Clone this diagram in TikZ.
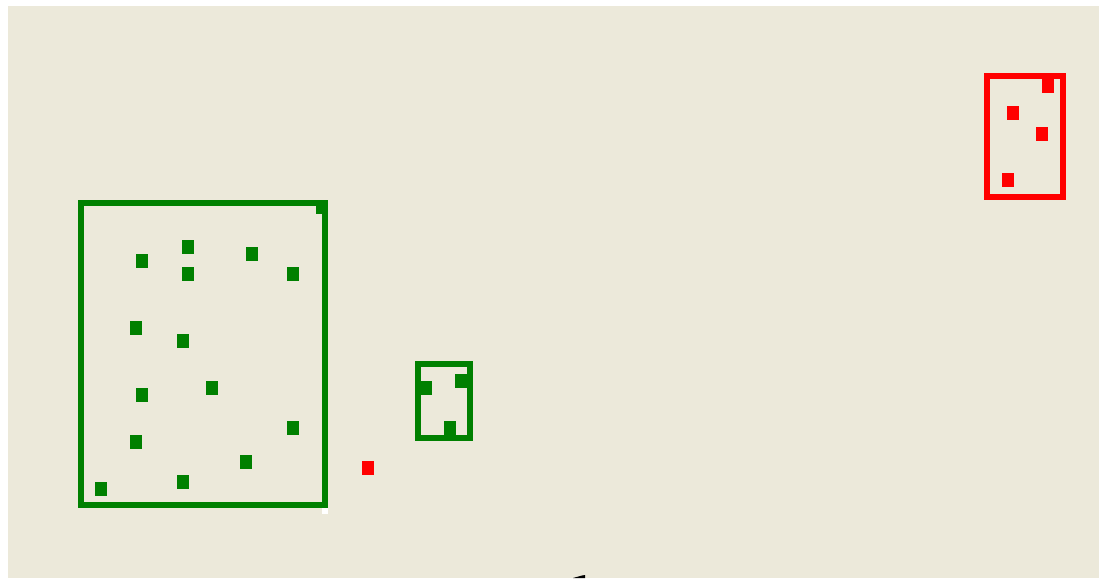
\documentclass[tikz,border=0pt]{standalone}
\definecolor{bg}{RGB}{236,233,218}
\definecolor{gr}{RGB}{0,128,0}
\definecolor{rd}{RGB}{255,0,0}
\begin{document}
\begin{tikzpicture}[x=1pt,y=-1pt,
  sq/.style={rectangle,inner sep=0pt,minimum width=12pt,minimum height=14pt,draw=none},
  gsq/.style={sq,fill=gr},
  rsq/.style={sq,fill=rd},
  gbox/.style={draw=gr,line width=6pt},
  rbox/.style={draw=rd,line width=6pt}]
\useasboundingbox (0,0) rectangle (1099,578);
\fill[bg] (8,6) rectangle (1099,578);
% boxes
\draw[gbox] (81,203) rectangle (325,505);
\fill[white] (322,508) rectangle (328,514);
\draw[gbox] (418,364) rectangle (470,438);
\draw[rbox] (987,76) rectangle (1063,197);
% big green box squares
\node[gsq] (g1) at (188,247) {};
\node[gsq] (g2) at (141.5,260.5) {};
\node[gsq] (g3) at (252,254) {};
\node[gsq] (g4) at (188,274) {};
\node[gsq] (g5) at (293,274) {};
\node[gsq] (g6) at (136,327.5) {};
\node[gsq] (g7) at (182.5,341) {};
\node[gsq] (g8) at (141.5,394.5) {};
\node[gsq] (g9) at (211.5,387.5) {};
\node[gsq] (g10) at (293,428) {};
\node[gsq] (g11) at (136,441.5) {};
\node[gsq] (g12) at (246,461.5) {};
\node[gsq] (g13) at (182.5,481.5) {};
\node[gsq] (g14) at (101,488.5) {};
\node[gsq] (g15) at (322,207) {};
% small green box squares
\node[gsq] (s1) at (426,387.5) {};
\node[gsq] (s2) at (461,381) {};
\node[gsq] (s3) at (449.5,428) {};
% red squares
\node[rsq] (r0) at (368,468) {};
\node[rsq] (r1) at (1048,86) {};
\node[rsq] (r2) at (1013,113) {};
\node[rsq] (r3) at (1042,133.5) {};
\node[rsq] (r4) at (1007.5,180) {};
% black mark at bottom
\fill[black] (573,578) -- (582,575.5) -- (585,575) -- (585,578) -- cycle;
\end{tikzpicture}
\end{document}
